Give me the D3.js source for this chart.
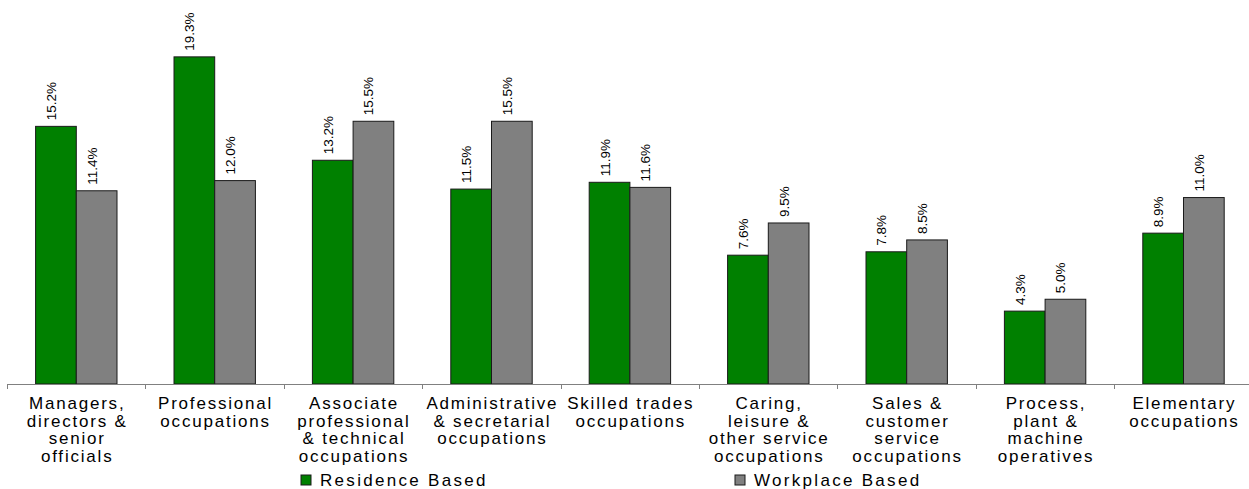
<!DOCTYPE html>
<html>
<head>
<meta charset="utf-8">
<script src="https://cdn.jsdelivr.net/npm/d3@7"></script>
<style>
  body { margin: 0; background: #fff; }
  svg { display: block; }
  text { font-family: "Liberation Sans", Arial, sans-serif; fill: #000; }
</style>
</head>
<body>
<script>
// occupation groups, residence vs workplace based shares
var categories = [
  ["Managers,", "directors &", "senior", "officials"],
  ["Professional", "occupations"],
  ["Associate", "professional", "& technical", "occupations"],
  ["Administrative", "& secretarial", "occupations"],
  ["Skilled trades", "occupations"],
  ["Caring,", "leisure &", "other service", "occupations"],
  ["Sales &", "customer", "service", "occupations"],
  ["Process,", "plant &", "machine", "operatives"],
  ["Elementary", "occupations"]
];
var series = ["Residence Based", "Workplace Based"];
var residence = [15.2, 19.3, 13.2, 11.5, 11.9, 7.6, 7.8, 4.3, 8.9];
var workplace = [11.4, 12.0, 15.5, 15.5, 11.6, 9.5, 8.5, 5.0, 11.0];
var colors = ["#008000", "#808080"];

var w = 1249, h = 489;
var svg = d3.select("body").append("svg")
            .attr("width", w)
            .attr("height", h);

var keys = categories.map(function(c, i) { return "c" + i; });

var x0 = d3.scaleBand().domain(keys).range([7, 1252.6]);
var x1 = d3.scaleBand().domain(series).range([28.6, 110]);
var y = d3.scaleLinear().domain([0, 20]).range([384, 45]);

var rows = categories.map(function(c, i) {
  return { key: keys[i], label: c, values: [residence[i], workplace[i]] };
});

// bars
var g = svg.selectAll("g.cat")
           .data(rows)
           .enter().append("g")
           .attr("class", "cat")
           .attr("transform", function(d) { return "translate(" + x0(d.key) + ",0)"; });

g.selectAll("rect")
 .data(function(d) { return d.values.map(function(v, j) { return { s: series[j], v: v, j: j }; }); })
 .enter().append("rect")
 .attr("x", function(d) { return x1(d.s); })
 .attr("y", function(d) { return y(d.v); })
 .attr("width", x1.bandwidth())
 .attr("height", function(d) { return y(0) - y(d.v); })
 .attr("fill", function(d) { return colors[d.j]; })
 .attr("stroke", "#1a1a1a")
 .attr("stroke-width", 1);

// value labels, rotated
g.selectAll("text.val")
 .data(function(d) { return d.values.map(function(v, j) { return { s: series[j], v: v }; }); })
 .enter().append("text")
 .attr("class", "val")
 .attr("transform", function(d) {
   return "translate(" + (x1(d.s) + x1.bandwidth() / 2) + "," + (y(d.v) - 6) + ") rotate(-90)";
 })
 .attr("font-size", 13.5)
 .text(function(d) { return d.v.toFixed(1) + "%"; });

// x axis
var axis = svg.append("g")
              .attr("transform", "translate(0," + y(0) + ")");
axis.append("line")
    .attr("x1", 7).attr("x2", 1252.6)
    .attr("y1", 0.5).attr("y2", 0.5)
    .attr("stroke", "#808080");
axis.selectAll("line.tick")
    .data(keys)
    .enter().append("line")
    .attr("class", "tick")
    .attr("x1", function(d) { return Math.round(x0(d)) + 0.5; })
    .attr("x2", function(d) { return Math.round(x0(d)) + 0.5; })
    .attr("y1", 0).attr("y2", 5)
    .attr("stroke", "#808080");

// category labels
var lab = svg.selectAll("text.cat")
             .data(rows)
             .enter().append("text")
             .attr("class", "cat")
             .attr("text-anchor", "middle")
             .attr("font-size", 17)
             .attr("letter-spacing", "1.8px")
             .attr("y", 409);
lab.selectAll("tspan")
   .data(function(d) { return d.label.map(function(t) { return { t: t, k: d.key }; }); })
   .enter().append("tspan")
   .attr("x", function(d) { return x0(d.k) + x0.bandwidth() / 2 + 1; })
   .attr("dy", function(d, i) { return i ? 17.5 : 0; })
   .text(function(d) { return d.t; });

// legend
var legX = [301, 735];
var leg = svg.selectAll("g.leg")
             .data(series)
             .enter().append("g")
             .attr("class", "leg")
             .attr("transform", function(d, i) { return "translate(" + legX[i] + ",475)"; });
leg.append("rect")
   .attr("width", 10).attr("height", 10)
   .attr("fill", function(d, i) { return colors[i]; })
   .attr("stroke", "#1a1a1a");
leg.append("text")
   .attr("x", 19).attr("y", 10.5)
   .attr("font-size", 17)
   .attr("letter-spacing", "2.3px")
   .text(function(d) { return d; });
</script>
</body>
</html>
